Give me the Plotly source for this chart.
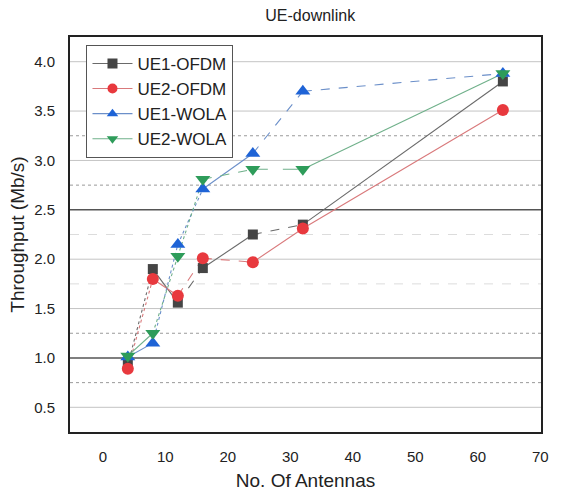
import plotly.graph_objects as go

antennas = [4, 8, 12, 16, 24, 32, 64]
ue1_ofdm = [0.93, 1.90, 1.56, 1.91, 2.25, 2.35, 3.80]
ue2_ofdm = [0.89, 1.80, 1.63, 2.01, 1.97, 2.31, 3.51]
ue1_wola = [1.01, 1.15, 2.15, 2.71, 3.07, 3.70, 3.88]
ue2_wola = [1.02, 1.25, 2.03, 2.81, 2.91, 2.91, 3.88]

series_names = ["UE1-OFDM", "UE2-OFDM", "UE1-WOLA", "UE2-WOLA"]
series_values = [ue1_ofdm, ue2_ofdm, ue1_wola, ue2_wola]
colors = ["#454545", "#e8393e", "#1e63d6", "#2e9c5a"]
line_colors = ["#6a6a6a", "#d9797b", "#6b8fc9", "#6fb08a"]
symbols = ["square", "circle", "triangle-up", "triangle-down"]
sizes = [10, 12, 13, 13]
segment_dash = [
    ["dot", "solid", "dash", "solid", "dash", "solid"],
    ["dot", "solid", "dash", "dash", "solid", "solid"],
    ["solid", "dot", "dot", "solid", "dash", "dash"],
    ["solid", "dot", "dot", "dash", "longdash", "solid"],
]

x_range = [-5.25, 70.1]
y_range = [0.25, 4.25]
grid_solid_light = [0.5, 1.5, 2.0, 3.0, 3.5, 4.0]
grid_solid_dark = [1.0, 2.5]
grid_dot = [0.75, 1.25, 2.75, 3.25]
grid_faint = [1.75, 2.25]

fig = go.Figure()

def add_hline(v, color, width, dash="solid"):
    fig.add_trace(go.Scatter(x=x_range, y=[v, v], mode="lines",
                             line=dict(color=color, width=width, dash=dash),
                             showlegend=False, hoverinfo="skip"))

for v in grid_faint:
    add_hline(v, "#dcdcdc", 1, "dash")
for v in grid_solid_light:
    add_hline(v, "#c4c4c4", 1)
for v in grid_dot:
    add_hline(v, "#9a9a9a", 1, "dot")
for v in grid_solid_dark:
    add_hline(v, "#555555", 1.5)

for i, (name, vals) in enumerate(zip(series_names, series_values)):
    for j in range(len(antennas) - 1):
        fig.add_trace(go.Scatter(
            x=antennas[j:j + 2], y=vals[j:j + 2], mode="lines",
            line=dict(color=line_colors[i], width=1.1, dash=segment_dash[i][j]),
            showlegend=False, hoverinfo="skip"))

for i, (name, vals) in enumerate(zip(series_names, series_values)):
    fig.add_trace(go.Scatter(
        x=antennas, y=vals, mode="markers", name=name,
        marker=dict(symbol=symbols[i], size=sizes[i], color=colors[i]),
        showlegend=False))

for i, name in enumerate(series_names):
    fig.add_trace(go.Scatter(
        x=[None], y=[None], mode="lines+markers", name=name,
        line=dict(color=line_colors[i], width=1.1),
        marker=dict(symbol=symbols[i], size=10, color=colors[i])))

fig.update_layout(
    width=561, height=500,
    margin=dict(l=70, r=12, t=37, b=64),
    paper_bgcolor="white", plot_bgcolor="white",
    font=dict(family="Liberation Sans, Arial", color="#222222"),
    title=dict(text="UE-downlink", x=0.553, xanchor="center", y=0.97, yanchor="middle",
               font=dict(size=16, color="#222222")),
    legend=dict(x=0.035, y=0.98, xanchor="left", yanchor="top",
                bgcolor="white", bordercolor="#555555", borderwidth=1,
                font=dict(size=17, color="#222222"), tracegroupgap=0,
                itemwidth=40),
    xaxis=dict(range=x_range, tickvals=[0, 10, 20, 30, 40, 50, 60, 70],
               showgrid=False, zeroline=False, showline=True, linecolor="#222222",
               linewidth=2, mirror=True, ticks="", ticklabelstandoff=10,
               tickfont=dict(size=15),
               title=dict(text="No. Of Antennas", font=dict(size=19), standoff=10)),
    yaxis=dict(range=y_range, tickvals=[0.5, 1.0, 1.5, 2.0, 2.5, 3.0, 3.5, 4.0],
               ticktext=["0.5", "1.0", "1.5", "2.0", "2.5", "3.0", "3.5", "4.0"],
               showgrid=False, zeroline=False, showline=True, linecolor="#222222",
               linewidth=2, mirror=True, ticks="", ticklabelstandoff=10,
               tickfont=dict(size=15),
               title=dict(text="Throughput (Mb/s)", font=dict(size=19), standoff=4)),
)

fig.write_html("out.html")
